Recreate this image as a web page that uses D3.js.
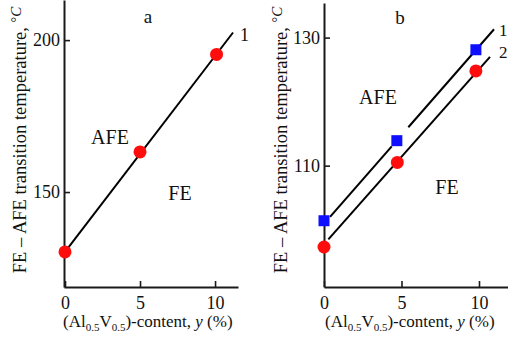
<!DOCTYPE html>
<html><head><meta charset="utf-8">
<script src="https://cdn.jsdelivr.net/npm/d3@7"></script>
<style>
html,body{margin:0;padding:0;background:#fff;}
svg{display:block;font-family:"Liberation Serif","Times New Roman",serif;}
</style></head>
<body><svg id="c" width="508" height="341"></svg>
<script>
// ---- data ----
const xTicks = [0, 5, 10];
const yTicksA = [150, 200];
const yTicksB = [110, 130];

// panel a: series 1 (red circles)
const aX = [0, 5, 10.1];
const aY = [130.3, 163.2, 195.3];
const aLine = [[0, 130.3], [11.2, 202.5]];

// panel b: series 1 (blue squares), series 2 (red circles)
const b1X = [0, 4.7, 9.8];
const b1Y = [101.4, 113.9, 128.1];
const b2X = [0, 4.73, 9.8];
const b2Y = [97.3, 110.5, 124.8];
const b1Lines = [[[0.39, 102.0], [4.37, 113.0]], [[5.44, 116.0], [10.97, 131.3]]];
const b2Line = [[0.28, 98.5], [10.71, 127.0]];

const svg = d3.select("#c");
const ink = "#1a1a1a";

function panel(o) {
  const x = d3.scaleLinear().domain(o.xDom).range(o.xRange);
  const y = d3.scaleLinear().domain(o.yDom).range(o.yRange);
  const g = svg.append("g");

  const ax = g.append("g").attr("transform", `translate(0,${o.yRange[0]})`)
    .call(d3.axisBottom(x).tickValues(xTicks).tickSizeInner(-6).tickSizeOuter(0).tickPadding(9));
  const ay = g.append("g").attr("transform", `translate(${o.xRange[0]},0)`)
    .call(d3.axisLeft(y).tickValues(o.yTicks).tickSizeInner(-6).tickSizeOuter(0).tickPadding(4));
  [ax, ay].forEach(a => {
    a.select(".domain").attr("stroke", ink).attr("stroke-width", 2);
    a.selectAll(".tick line").attr("stroke", ink).attr("stroke-width", 1.6);
    a.selectAll(".tick text").attr("fill", "#111").style("font-size", "18px")
      .style("font-family", "'Liberation Serif',serif");
  });

  const line = d3.line().x(d => x(d[0])).y(d => y(d[1]));
  o.lines.forEach(l => g.append("path").attr("d", line(l)).attr("fill", "none")
    .attr("stroke", "#000").attr("stroke-width", 2));

  o.circles.forEach(s => {
    g.selectAll(null).data(d3.zip(s.x, s.y)).join("circle")
      .attr("cx", d => x(d[0])).attr("cy", d => y(d[1])).attr("r", 6.5).attr("fill", "#ff0d0d");
  });
  (o.squares || []).forEach(s => {
    g.selectAll(null).data(d3.zip(s.x, s.y)).join("rect")
      .attr("x", d => x(d[0]) - 5.5).attr("y", d => y(d[1]) - 5.5)
      .attr("width", 11).attr("height", 11).attr("fill", "#0f0fff");
  });

  // x title
  const xt = g.append("text").attr("x", o.xTitleX).attr("y", 327)
    .style("font-size", "17px").attr("fill", "#111");
  xt.append("tspan").text("(Al");
  xt.append("tspan").text("0.5").attr("dy", 4).style("font-size", "11px");
  xt.append("tspan").text("V").attr("dy", -4);
  xt.append("tspan").text("0.5").attr("dy", 4).style("font-size", "11px");
  xt.append("tspan").text(")-content, ").attr("dy", -4);
  xt.append("tspan").text("y").style("font-style", "italic");
  xt.append("tspan").text(" (%)");

  // y title
  const yt = g.append("text").attr("transform", `translate(${o.yTitleX},140) rotate(-90)`)
    .attr("text-anchor", "middle").style("font-size", "18.5px").attr("fill", "#111");
  yt.append("tspan").text("FE \u2013 AFE transition temperature, ");
  yt.append("tspan").text("\u00b0").attr("dy", -5).style("font-size", "14px");
  yt.append("tspan").text("C").attr("dy", 0).style("font-style", "italic").style("font-size", "15px");

  o.labels.forEach(t => g.append("text").attr("x", t[1]).attr("y", t[2]).text(t[0])
    .style("font-size", (t[3] || 17) + "px").attr("fill", "#111")
    .attr("text-anchor", t[4] || "start"));
}

panel({
  xDom: [-0.067, 11.53], xRange: [64, 238],
  yDom: [118.75, 213.2], yRange: [287, 0],
  yTicks: yTicksA,
  lines: [aLine],
  circles: [{x: aX, y: aY}],
  xTitleX: 63, yTitleX: 26,
  labels: [["a", 148, 23, 19, "middle"], ["AFE", 110, 144, 20, "middle"], ["FE", 180, 200, 20, "middle"], ["1", 240, 41, 18]]
});

panel({
  xDom: [0, 12.5], xRange: [324, 517.75],
  yDom: [91.05, 135.4], yRange: [287, 3],
  yTicks: yTicksB,
  lines: b1Lines.concat([b2Line]),
  circles: [{x: b2X, y: b2Y}],
  squares: [{x: b1X, y: b1Y}],
  xTitleX: 325, yTitleX: 287,
  labels: [["b", 400, 24, 19, "middle"], ["AFE", 378, 104, 20, "middle"], ["FE", 447, 194, 20, "middle"], ["1", 499, 36, 17], ["2", 499, 58, 17]]
});
</script></body></html>
